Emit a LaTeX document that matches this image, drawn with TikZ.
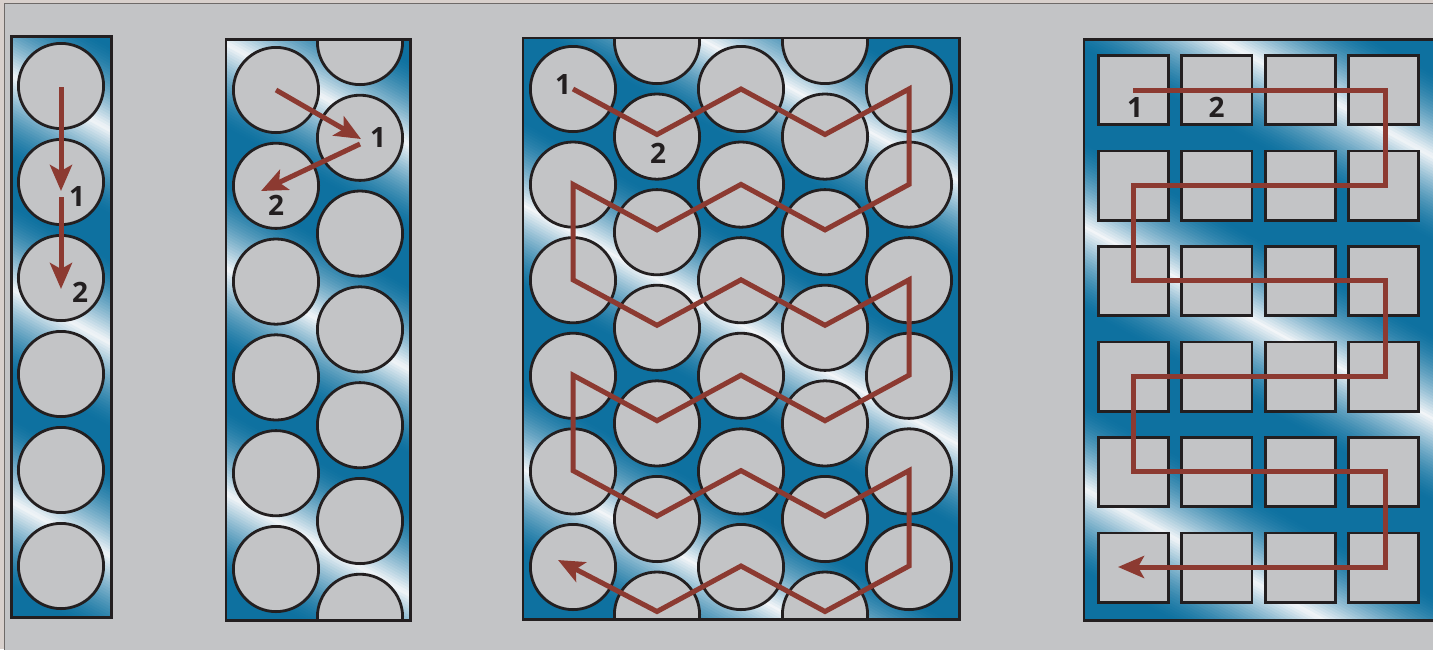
\documentclass[tikz,border=0pt]{standalone}
\usepackage{fontspec}
\setsansfont{Open Sans}
\usetikzlibrary{arrows.meta}
\definecolor{bg}{HTML}{C3C4C6}
\definecolor{outerc}{HTML}{D8D0CC}
\definecolor{framec}{HTML}{6E6A68}
\definecolor{dblue}{HTML}{0E71A0}
\definecolor{hl}{HTML}{F2F5F8}
\definecolor{ink}{HTML}{231F20}
\definecolor{routec}{HTML}{8C3A31}
\tikzset{
 panel/.style={draw=ink, line width=2.8pt},
 cell/.style={circle, draw=ink, fill=bg, line width=2.8pt, minimum size=85.2pt, inner sep=0pt},
 sq/.style={rectangle, draw=ink, fill=bg, line width=2.8pt, minimum width=70.2pt, minimum height=69.2pt, inner sep=0pt},
 route/.style={draw=routec, line width=5pt},
 arr/.style={route, -{Stealth[length=26pt,width=22pt,inset=6pt]}},
 lbl/.style={font=\fontsize{28}{32}\selectfont\sffamily\bfseries, text=ink, inner sep=0pt},
}
% metallic diagonal stripes: xl, yt, xr, yb, white-centre c, period, half-width
\newcommand\mymetal[7]{%
  \begin{scope}
    \clip (#1,#2) rectangle (#3,#4);
    \fill[dblue] (#1,#2) rectangle (#3,#4);
    \pgfmathtruncatemacro\mycA{#2-0.55*#3-12}%
    \pgfmathtruncatemacro\mynN{(#4-0.55*#1+12-\mycA)/3}%
    \foreach \i in {0,...,\mynN}{%
      \pgfmathsetmacro\mycc{\mycA+3*\i}%
      \pgfmathsetmacro\myph{mod(\mycc-(#5)+20*#6,#6)}%
      \pgfmathsetmacro\myq{min(\myph,#6-\myph)}%
      \pgfmathsetmacro\myww{max(0,1-\myq/#7)}%
      \pgfmathsetmacro\mywp{100*\myww*sqrt(\myww)}%
      \fill[hl!\mywp!dblue] (#1-5,\mycc+0.55*#1-2.75) -- (#3+5,\mycc+0.55*#3+2.75) -- (#3+5,\mycc+0.55*#3+8.75) -- (#1-5,\mycc+0.55*#1+3.25) -- cycle;
    }%
  \end{scope}}
\begin{document}
\begin{tikzpicture}[x=1pt,y=-1pt]
\useasboundingbox (0,0) rectangle (1433,649);
\clip (0,0) rectangle (1433,649);
\fill[outerc] (0,0) rectangle (1433,649);
\filldraw[fill=bg, draw=framec, line width=1pt] (4.5,3.5) rectangle (1460,680);

% ---------- panel 1 ----------
\mymetal{11.3}{36.3}{111.3}{617.5}{68}{213}{85}
\foreach \k in {0,...,5} \node[cell] (a\k) at (61,86+96*\k) {};
\draw[panel] (11.3,36.3) rectangle (111.3,617.5);
\coordinate (a1s) at (61,87);  \coordinate (a1e) at (61,191);
\coordinate (a2s) at (61,197); \coordinate (a2e) at (61,289);
\draw[arr] (a1s) -- (a1e);
\draw[arr] (a2s) -- (a2e);
\node[lbl] (la1) at (77,196) {1};
\node[lbl] (la2) at (80,292) {2};

% ---------- panel 2 ----------
\mymetal{226}{39.7}{410.7}{620.7}{-82}{225}{85}
\begin{scope}
\clip (226,39.7) rectangle (410.7,620.7);
\foreach \k in {0,...,5} \node[cell] (bl\k) at (276,90+95.8*\k) {};
\foreach \k in {0,...,6} \node[cell] (br\k) at (360,42+95.8*\k) {};
\end{scope}
\draw[panel] (226,39.7) rectangle (410.7,620.7);
\coordinate (b1s) at (276,90);  \coordinate (b1e) at (361,139);
\coordinate (b2s) at (360,144); \coordinate (b2e) at (261,191);
\draw[arr] (b1s) -- (b1e);
\draw[arr] (b2s) -- (b2e);
\node[lbl] (lb1) at (378,137) {1};
\node[lbl] (lb2) at (276,205) {2};

% ---------- panel 3 ----------
\mymetal{523}{38}{959.7}{619.7}{-84}{264}{85}
\begin{scope}
\clip (523,38) rectangle (959.7,619.7);
\foreach \j in {0,2,4} \foreach \k in {0,...,5} \node[cell] (c\j-\k) at (573+84*\j,89+95.6*\k) {};
\foreach \j in {1,3} \foreach \k in {0,...,6} \node[cell] (c\j-\k) at (573+84*\j,41+95.6*\k) {};
\end{scope}
\draw[panel] (523,38) rectangle (959.7,619.7);
\coordinate (cs) at (573,89);
\coordinate (ce) at (558,560);
\draw[arr, line join=miter] (cs) -- (657,134.5) -- (741,89) -- (825,134.5) -- (909,89)
 -- (909,184.4) -- (825,229.9) -- (741,184.4) -- (657,229.9) -- (573,184.4)
 -- (573,279.8) -- (657,325.3) -- (741,279.8) -- (825,325.3) -- (909,279.8)
 -- (909,375.2) -- (825,420.7) -- (741,375.2) -- (657,420.7) -- (573,375.2)
 -- (573,470.6) -- (657,516.1) -- (741,470.6) -- (825,516.1) -- (909,470.6)
 -- (909,566) -- (825,611.5) -- (741,566) -- (657,611.5) -- (ce);
\node[lbl] (lc1) at (563,85) {1};
\node[lbl] (lc2) at (658,153.5) {2};

% ---------- panel 4 ----------
\mymetal{1084}{39.7}{1440}{620.3}{-371}{262}{85}
\foreach \j in {0,...,3} \foreach \k in {0,...,5} \node[sq] (d\j-\k) at (1133.5+83.4*\j,90+95.5*\k) {};
\draw[panel] (1084,39.7) rectangle (1450,620.3);
\coordinate (ds) at (1133,90);
\coordinate (de) at (1118,567);
\draw[arr, line join=miter] (ds) -- (1385,90) -- (1385,185.4) -- (1133,185.4) -- (1133,280.8)
 -- (1385,280.8) -- (1385,376.2) -- (1133,376.2) -- (1133,471.6) -- (1385,471.6)
 -- (1385,567) -- (de);
\node[lbl] (ld1) at (1135,107.5) {1};
\node[lbl] (ld2) at (1216.5,107.5) {2};
\end{tikzpicture}
\end{document}
